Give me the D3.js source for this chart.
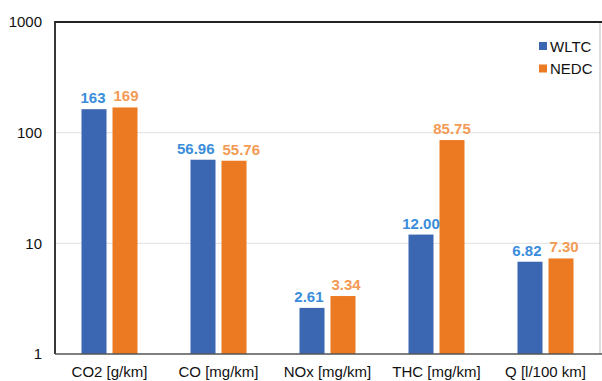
<!DOCTYPE html>
<html><head><meta charset="utf-8">
<script src="https://cdn.jsdelivr.net/npm/d3@7"></script>
<style>body{margin:0;background:#fff}svg{display:block;font-family:"Liberation Sans",Arial,sans-serif}</style>
</head><body><svg id="c" width="602" height="381"></svg>
<script>
const categories = ["CO2 [g/km]", "CO [mg/km]", "NOx [mg/km]", "THC [mg/km]", "Q [l/100 km]"];
const series = ["WLTC", "NEDC"];
const wltc = [163, 56.96, 2.61, 12.00, 6.82];
const nedc = [169, 55.76, 3.34, 85.75, 7.30];
const wltcLabels = ["163", "56.96", "2.61", "12.00", "6.82"];
const nedcLabels = ["169", "55.76", "3.34", "85.75", "7.30"];
const yTicks = [1, 10, 100, 1000];

const barColors = ["#3b67b2", "#ec7a23"];
const labelColors = ["#3a8ddb", "#f39a55"];

const svg = d3.select("#c");
const L = 55, R = 600, T = 22, B = 354;
const x = d3.scaleBand().domain(categories).range([L, R]);
const y = d3.scaleLog().domain([1, 1000]).range([B, T]);

// gridlines
svg.append("g").selectAll("line").data([10, 100]).join("line")
  .attr("x1", L).attr("x2", R).attr("y1", d => y(d)).attr("y2", d => y(d))
  .attr("stroke", "#e6e6e6").attr("stroke-width", 1.2);

const barW = 25, gap = 6;
const data = [];
categories.forEach((c, i) => {
  data.push({c, s: 0, v: wltc[i], t: wltcLabels[i]});
  data.push({c, s: 1, v: nedc[i], t: nedcLabels[i]});
});
const bx = d => x(d.c) + x.bandwidth() / 2 + (d.s === 0 ? -gap / 2 - barW : gap / 2);

svg.append("g").selectAll("rect").data(data).join("rect")
  .attr("x", bx).attr("width", barW)
  .attr("y", d => y(d.v)).attr("height", d => y(1) - y(d.v))
  .attr("fill", d => barColors[d.s]);

const labels = svg.append("g").selectAll("text").data(data).join("text")
  .attr("x", d => bx(d) + barW / 2).attr("y", d => y(d.v) - 6)
  .attr("text-anchor", "middle").attr("font-size", 15).attr("font-weight", "bold")
  .attr("fill", d => labelColors[d.s])
  .text(d => d.t);

// resolve overlapping value labels within each category (spread outward)
categories.forEach(c => {
  const nodes = labels.filter(d => d.c === c).nodes();
  if (nodes.length < 2) return;
  const [a, b] = nodes;
  const ba = a.getBBox(), bb = b.getBBox();
  const vOverlap = !(ba.y + ba.height < bb.y || bb.y + bb.height < ba.y);
  const need = (ba.x + ba.width + 8) - bb.x;
  if (vOverlap && need > 0) {
    d3.select(a).attr("x", +a.getAttribute("x") - need / 2);
    d3.select(b).attr("x", +b.getAttribute("x") + need / 2);
  }
});

// frame
svg.append("line").attr("x1", R).attr("x2", R).attr("y1", T).attr("y2", B).attr("stroke", "#bdbdbd").attr("stroke-width", 1);
svg.append("line").attr("x1", L).attr("x2", 602).attr("y1", T).attr("y2", T).attr("stroke", "#222").attr("stroke-width", 2);
svg.append("line").attr("x1", L).attr("x2", L).attr("y1", T - 1).attr("y2", B).attr("stroke", "#222").attr("stroke-width", 1.8);
svg.append("line").attr("x1", L).attr("x2", 602).attr("y1", B).attr("y2", B).attr("stroke", "#555").attr("stroke-width", 1.5);

// y axis labels
const yAxis = d3.axisLeft(y).tickValues(yTicks).tickFormat(d3.format("d")).tickSize(0).tickPadding(13);
const ga = svg.append("g").attr("transform", `translate(${L},0)`).call(yAxis);
ga.select(".domain").remove();
ga.selectAll("text").attr("font-size", 15).attr("fill", "#111").attr("font-family", "Liberation Sans, Arial, sans-serif");

// x axis labels
const xAxis = d3.axisBottom(x).tickSize(0).tickPadding(12);
const gx = svg.append("g").attr("transform", `translate(0,${B})`).call(xAxis);
gx.select(".domain").remove();
gx.selectAll("text").attr("font-size", 15).attr("fill", "#111").attr("font-family", "Liberation Sans, Arial, sans-serif");

// legend
const lg = svg.append("g").selectAll("g").data(series).join("g")
  .attr("transform", (d, i) => `translate(539,${46 + i * 22.5})`);
lg.append("rect").attr("x", 0).attr("y", -4).attr("width", 8).attr("height", 8).attr("fill", (d, i) => barColors[i]);
lg.append("text").attr("x", 11).attr("y", 5.5).attr("font-size", 15).attr("fill", "#111").text(d => d);
</script></body></html>
